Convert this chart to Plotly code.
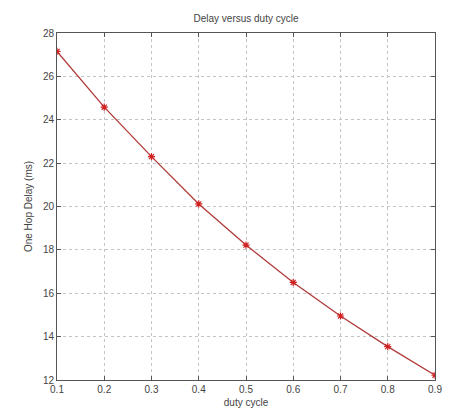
import plotly.graph_objects as go

duty_cycle = [0.1, 0.2, 0.3, 0.4, 0.5, 0.6, 0.7, 0.8, 0.9]
delay_ms = [27.15, 24.58, 22.3, 20.12, 18.22, 16.5, 14.95, 13.54, 12.22]

x_ticks = [0.1, 0.2, 0.3, 0.4, 0.5, 0.6, 0.7, 0.8, 0.9]
y_ticks = [12, 14, 16, 18, 20, 22, 24, 26, 28]

FONT = dict(family="Liberation Sans, Arial", size=10, color="#444")

fig = go.Figure()
fig.add_trace(go.Scatter(
    x=duty_cycle, y=delay_ms, mode="lines+markers",
    line=dict(color="#b03a3a", width=1.3),
    marker=dict(symbol="asterisk-open", size=6, color="#d02020",
                line=dict(color="#d02020", width=1.2)),
    showlegend=False,
))

axis_common = dict(
    showline=True, linecolor="#555", linewidth=1, mirror="ticks",
    ticks="inside", ticklen=4, tickcolor="#555",
    showgrid=True, gridcolor="#c4c4c4", griddash="dot", gridwidth=1,
    zeroline=False, automargin=False,
    tickfont=FONT,
)

fig.update_layout(
    width=449, height=415,
    margin=dict(l=57, r=14, t=33, b=35),
    paper_bgcolor="white", plot_bgcolor="white",
    title=dict(text="Delay versus duty cycle", x=0.5, xref="paper", xanchor="center",
               y=1 - 18 / 415, yanchor="middle", font=FONT),
    xaxis=dict(range=[0.1, 0.9], tickvals=x_ticks,
               ticktext=[f"{v:.1f}" for v in x_ticks],
               title=dict(text="duty cycle", standoff=4, font=FONT),
               **axis_common),
    yaxis=dict(range=[12, 28], tickvals=y_ticks,
               title=dict(text="One Hop Delay (ms)", standoff=8, font=FONT),
               **axis_common),
)

fig.write_html(
    "out.html",
    config={"displayModeBar": False},
    post_script="document.body.style.margin='0';document.body.style.overflow='hidden';",
)
